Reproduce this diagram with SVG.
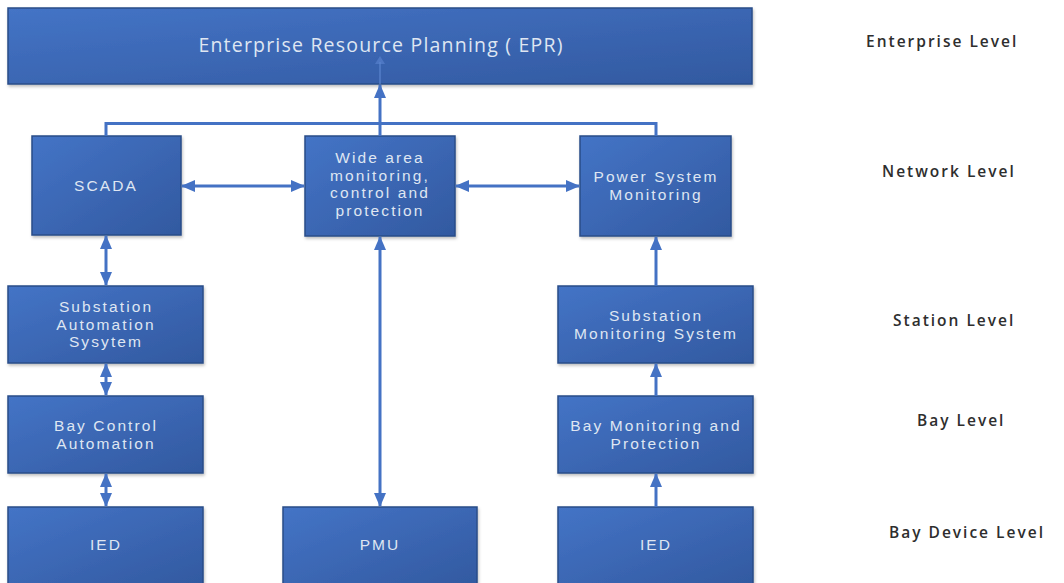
<svg xmlns="http://www.w3.org/2000/svg" width="1064" height="583" viewBox="0 0 1064 583">
  <defs>
    <linearGradient id="boxFill" x1="0" y1="0" x2="1" y2="1">
      <stop offset="0" stop-color="#4474c6"/>
      <stop offset="1" stop-color="#3259a0"/>
    </linearGradient>
    <filter id="shadow" x="-10%" y="-10%" width="130%" height="130%">
      <feDropShadow dx="1" dy="2" stdDeviation="1.5" flood-color="#000" flood-opacity="0.25"/>
    </filter>
    <marker id="head" viewBox="0 0 14 12" refX="13" refY="6" markerWidth="14" markerHeight="12" markerUnits="userSpaceOnUse" orient="auto-start-reverse">
      <path d="M0,0 L14,6 L0,12 Z" fill="#4472c4"/>
    </marker>
  </defs>
  <style>
    .box { fill: url(#boxFill); stroke: #2a4c88; stroke-width: 1.5; filter: url(#shadow); }
    .lbl { font-family: "Liberation Sans", Arial, sans-serif; font-size: 15.5px; fill: #dfe6f2; text-anchor: middle; letter-spacing: 2.1px; }
    .big { font-family: "Open Sans", "Liberation Sans", sans-serif; font-size: 19.5px; letter-spacing: 1.2px; }
    .lvl { font-family: "Open Sans", "Liberation Sans", sans-serif; font-size: 15.5px; font-weight: 600; fill: #2e2e2e; letter-spacing: 2px; }
    .wire { fill: none; stroke: #4472c4; stroke-width: 3; }
    .arrow { fill: none; stroke: #4472c4; stroke-width: 3; marker-end: url(#head); }
    .both { fill: none; stroke: #4472c4; stroke-width: 3; marker-start: url(#head); marker-end: url(#head); }
  </style>

  <!-- enterprise level -->
  <g id="erp">
    <rect class="box" x="8" y="8" width="744" height="76"/>
    <text class="lbl big" x="381" y="52">Enterprise Resource Planning ( EPR)</text>
  </g>

  <!-- network level -->
  <g id="scada">
    <rect class="box" x="32" y="136" width="149" height="99"/>
    <text class="lbl" x="106" y="191">SCADA</text>
  </g>
  <g id="wamc">
    <rect class="box" x="305" y="136" width="150" height="100"/>
    <text class="lbl" x="380" y="163">Wide area<tspan x="380" dy="17.7">monitoring,</tspan><tspan x="380" dy="17.7">control and</tspan><tspan x="380" dy="17.7">protection</tspan></text>
  </g>
  <g id="psm">
    <rect class="box" x="580" y="136" width="151" height="100"/>
    <text class="lbl" x="656" y="182">Power System<tspan x="656" dy="17.7">Monitoring</tspan></text>
  </g>

  <!-- station level -->
  <g id="sas">
    <rect class="box" x="8" y="286" width="195" height="77"/>
    <text class="lbl" x="106" y="312">Substation<tspan x="106" dy="17.7">Automation</tspan><tspan x="106" dy="17.7">Sysytem</tspan></text>
  </g>
  <g id="sms">
    <rect class="box" x="558" y="286" width="195" height="77"/>
    <text class="lbl" x="656" y="321">Substation<tspan x="656" dy="17.7">Monitoring System</tspan></text>
  </g>

  <!-- bay level -->
  <g id="bca">
    <rect class="box" x="8" y="396" width="195" height="77"/>
    <text class="lbl" x="106" y="431">Bay Control<tspan x="106" dy="17.7">Automation</tspan></text>
  </g>
  <g id="bmp">
    <rect class="box" x="558" y="396" width="195" height="77"/>
    <text class="lbl" x="656" y="431">Bay Monitoring and<tspan x="656" dy="17.7">Protection</tspan></text>
  </g>

  <!-- bay device level -->
  <g id="ied-left">
    <rect class="box" x="8" y="507" width="195" height="80"/>
    <text class="lbl" x="106" y="550">IED</text>
  </g>
  <g id="pmu">
    <rect class="box" x="283" y="507" width="194" height="80"/>
    <text class="lbl" x="380" y="550">PMU</text>
  </g>
  <g id="ied-right">
    <rect class="box" x="558" y="507" width="195" height="80"/>
    <text class="lbl" x="656" y="550">IED</text>
  </g>

  <!-- connectors -->
  <g id="connectors">
    <!-- network bus up to the enterprise box -->
    <path class="wire" d="M106,136 V123.5 H656 V136"/>
    <path class="wire" d="M380,136 V123.5"/>
    <path class="arrow" d="M380,124 V85"/>
    <path d="M380,84 V62" stroke="#5b86d0" stroke-width="2" opacity="0.6"/>
    <path d="M375,64 L380,56 L385,64 Z" fill="#5b86d0" opacity="0.6"/>
    <!-- horizontal links between network nodes -->
    <path class="both" d="M182,186 H304"/>
    <path class="both" d="M456,186 H579"/>
    <!-- left column -->
    <path class="both" d="M106,236 V285"/>
    <path class="both" d="M106,364 V395"/>
    <path class="both" d="M106,474 V506"/>
    <!-- centre column -->
    <path class="both" d="M380,237 V506"/>
    <!-- right column -->
    <path class="arrow" d="M656,286 V237"/>
    <path class="arrow" d="M656,396 V364"/>
    <path class="arrow" d="M656,507 V474"/>
  </g>

  <!-- level captions -->
  <g id="levels">
    <text class="lvl" x="866" y="47">Enterprise Level</text>
    <text class="lvl" x="882" y="177">Network Level</text>
    <text class="lvl" x="893" y="326">Station Level</text>
    <text class="lvl" x="917" y="426">Bay Level</text>
    <text class="lvl" x="889" y="538">Bay Device Level</text>
  </g>
</svg>
